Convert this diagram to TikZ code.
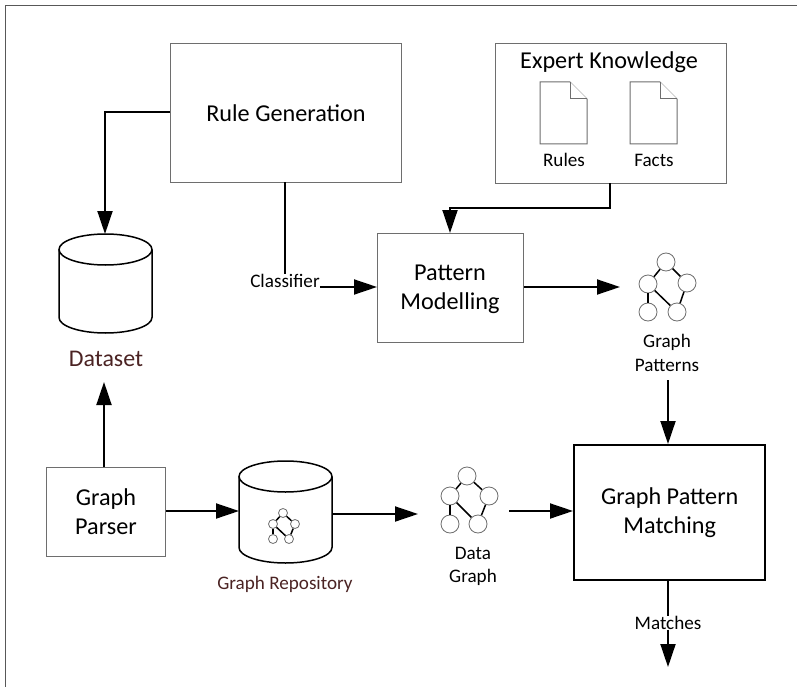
\documentclass[tikz,border=0pt]{standalone}
\usepackage{fontspec}
\setmainfont{Carlito}
\usetikzlibrary{arrows.meta}
\definecolor{boxgray}{RGB}{110,110,110}
\definecolor{brownlabel}{RGB}{75,35,35}
\tikzset{
  x=1bp,y=-1bp,
  plainbox/.style={draw=boxgray,line width=1bp,fill=white,align=center,inner sep=0pt,anchor=north west,text=black,font=\fontsize{24.3}{29}\selectfont},
  heavybox/.style={plainbox,draw=black,line width=2.4bp},
  boxtxt/.style={align=center,inner sep=0pt,font=\fontsize{24.3}{29}\selectfont},
  txt/.style={align=center,inner sep=0pt,font=\fontsize{19.2}{23.5}\selectfont},
  browntxt/.style={txt,text=brownlabel},
  conn/.style={draw=black,line width=1.9bp},
  arrow/.style={conn,-{Triangle[length=23bp,width=15bp]}},
  gnode/.style={circle,draw=#1,line width=.8bp,fill=white,inner sep=0pt},
  gedge/.style={draw=black,line width=1.5bp},
  doc/.style={draw=boxgray,line width=1bp,fill=white},
  cyl/.style={draw=black,line width=1.5bp,fill=white},
}
% graph icon: #1 prefix, #2 radius (bp), then five centres
\newcommand{\graphicon}[7]{%
  \node[gnode=boxgray,minimum size=#2*2bp] (#1a) at #3 {};
  \node[gnode=boxgray,minimum size=#2*2bp] (#1b) at #4 {};
  \node[gnode=boxgray,minimum size=#2*2bp] (#1c) at #5 {};
  \node[gnode=boxgray,minimum size=#2*2bp] (#1d) at #6 {};
  \node[gnode=boxgray,minimum size=#2*2bp] (#1e) at #7 {};
  \draw[gedge] (#1a)--(#1b);
  \draw[gedge] (#1a)--(#1c);
  \draw[gedge] (#1b)--(#1d);
  \draw[gedge] (#1b)--(#1e);
  \draw[gedge] (#1c)--(#1e);
}
\newcommand{\cylinder}[5]{% left, right, top, bottom, ry
  \draw[cyl] (#1,#3+#5) -- (#1,#4-#5) arc[start angle=180,end angle=360,x radius={(#2-#1)/2},y radius=-#5] -- (#2,#3+#5);
  \draw[cyl] ({(#1+#2)/2},#3+#5) ellipse[x radius={(#2-#1)/2},y radius=#5];
}
\newcommand{\docicon}[2]{% left x, top y
  \draw[doc] (#1,#2) -- ++(30,0) -- ++(17,17) -- ++(0,45) -- ++(-47,0) -- cycle;
  \draw[doc] (#1+30,#2) -- ++(0,17) -- ++(17,0);
}
\begin{document}
\begin{tikzpicture}
\useasboundingbox (0,0) rectangle (797,687);
\fill[white] (0,0) rectangle (797,687);
\draw[draw=boxgray!80!black,line width=1.2bp] (5.5,687) -- (5.5,5.5) -- (797,5.5);

\node[plainbox,minimum width=231bp,minimum height=139bp] (rule) at (170,43) {Rule Generation};
\node[plainbox,minimum width=231bp,minimum height=140bp] (expert) at (495,43) {};
\node[inner sep=0pt,font=\fontsize{24.3}{26}\selectfont] (expertlab) at (609,62) {Expert Knowledge};
\docicon{540}{82}
\docicon{630}{82}
\node[txt] (rules) at (564,160) {Rules};
\node[txt] (facts) at (654,160) {Facts};
\node[plainbox,minimum width=146bp,minimum height=109bp] (pattern) at (377,233) {};
\node[boxtxt] (patterntxt) at (450,289.5) {Pattern\\Modelling};
\node[plainbox,minimum width=119bp,minimum height=89bp] (parser) at (46,467) {Graph\\Parser};
\node[heavybox,minimum width=191bp,minimum height=135bp] (gpm) at (573,444) {Graph Pattern\\Matching};

\cylinder{59}{152}{234}{333}{15.5}
\coordinate (dstop) at (105,234);
\coordinate (dsbot) at (104,382);
\node[browntxt,font=\fontsize{24}{24}\selectfont] (dataset) at (106,359) {Dataset};
\cylinder{239}{332}{461}{563}{15.5}
\coordinate (repoL) at (239,511);
\coordinate (repoR) at (332,514);
\node[browntxt] (repolab) at (285,584) {Graph Repository};
\graphicon{s}{4.5}{(283,513)}{(273,524)}{(295,524)}{(273,539)}{(289,539)}
\graphicon{d}{9}{(467,476)}{(450,496)}{(489,496)}{(450,524)}{(478,524)}
\graphicon{p}{9}{(666,262)}{(648,284)}{(687,283)}{(648,312)}{(677,312)}
\node[txt] (datalab) at (473,566.5) {Data\\Graph};
\node[txt] (patlab) at (667,353) {Graph\\Patterns};
\node[txt] (classifier) at (285,281) {Classifier};
\node[txt] (matches) at (668,623) {Matches};

\coordinate (a1) at (105,112);
\draw[arrow] (rule.west |- a1) -- (a1) -- (dstop);
\draw[conn] (285,182) -- (classifier.north);
\draw[arrow] (classifier.east |- 0,287) -- (pattern.west |- 0,287);
\coordinate (e1) at (610,208);
\coordinate (e2) at (450,208);
\draw[arrow] (610,183) -- (e1) -- (e2) -- (450,233);
\coordinate (g1) at (620,287);
\draw[arrow] (pattern.east |- g1) -- (g1);
\draw[arrow] (668,380) -- (668,444);
\draw[arrow] (104,467) -- (dsbot);
\draw[arrow] (parser.east |- repoL) -- (repoL);
\coordinate (r2) at (418,514);
\draw[arrow] (repoR) -- (r2);
\coordinate (d2) at (509,511);
\draw[arrow] (d2) -- (gpm.west |- d2);
\draw[conn] (668,579) -- (matches.north);
\coordinate (m1) at (668,667);
\draw[arrow] (matches.south) -- (m1);
\end{tikzpicture}
\end{document}
